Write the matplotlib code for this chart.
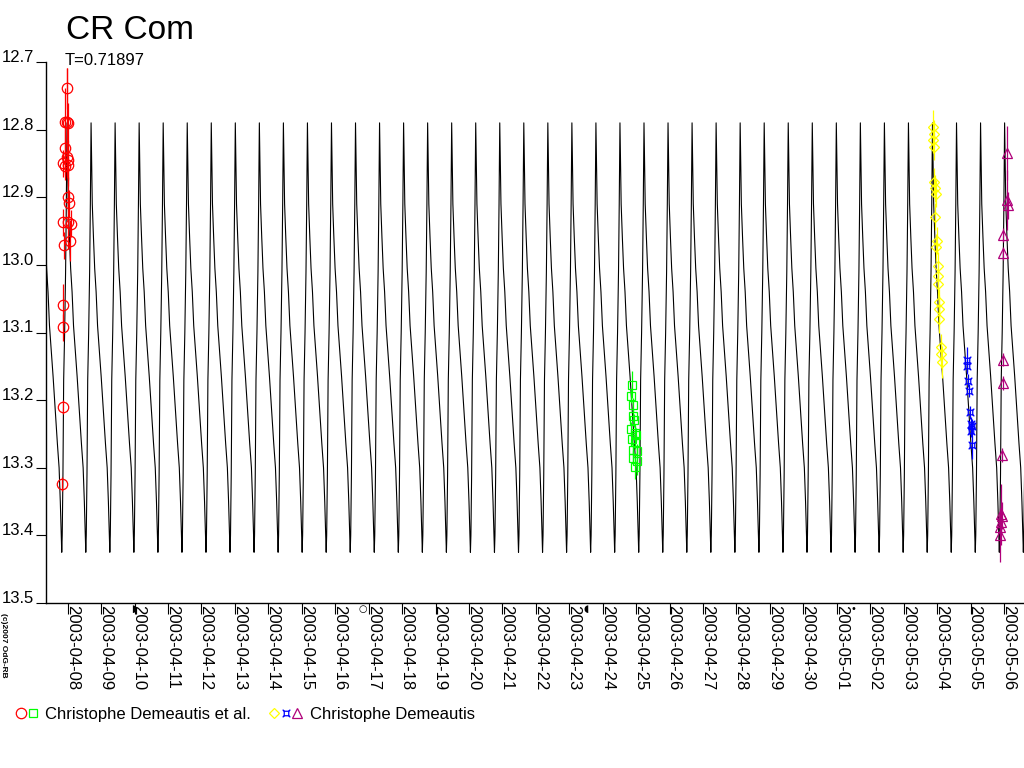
import numpy as np
import matplotlib
matplotlib.use("Agg")
import matplotlib.pyplot as plt
import matplotlib.dates as mdates
from matplotlib.lines import Line2D
from matplotlib.path import Path
from matplotlib.transforms import ScaledTranslation, blended_transform_factory
from datetime import datetime, timedelta

plt.rcParams['font.family'] = ['Liberation Sans', 'DejaVu Sans']

period = 0.71897
t_max = -0.02          # epoch of a maximum, days after 2003-04-08 00:00

# one cycle of the model light curve
tpl_phase = [0.0, 0.02, 0.05, 0.10, 0.15, 0.21, 0.27, 0.36, 0.42, 0.50, 0.60, 0.67,
             0.72, 0.76, 0.78, 0.80, 0.83, 0.86, 0.90, 0.94, 0.97]
tpl_mag = [12.79, 12.835, 12.91, 12.96, 13.005, 13.04, 13.09, 13.135, 13.165, 13.21, 13.265, 13.30,
           13.35, 13.40, 13.425, 13.40, 13.31, 13.17, 13.10, 13.01, 12.91]

# observations: days after 2003-04-08 00:00, magnitude, error
red_t = [-0.03, -0.072, -0.012, 0.018, -0.08, -0.03, 0.0, -0.13, 0.018, -0.08,
         0.018, 0.048, -0.13, 0.018, 0.09, 0.069, -0.11, -0.13, -0.13, -0.13, -0.16]
red_mag = [12.739, 12.789, 12.789, 12.790, 12.827, 12.841, 12.845, 12.850, 12.853, 12.854,
           12.900, 12.909, 12.937, 12.937, 12.939, 12.964, 12.971, 13.059, 13.092, 13.210, 13.324]
red_err = [0.03, 0.05, 0.08, 0.03, 0.04, 0.03, 0.03, 0.02, 0.03, 0.02,
           0.03, 0.02, 0.02, 0.04, 0.02, 0.03, 0.02, 0.03, 0.02, 0.01, 0.01]

green_t = [16.866, 16.846, 16.915, 16.895, 16.945, 16.840, 16.970, 17.000, 16.885, 16.970,
           16.915, 17.015, 16.895, 17.025, 16.970]
green_mag = [13.177, 13.194, 13.207, 13.223, 13.230, 13.243, 13.248, 13.251, 13.257, 13.262,
             13.274, 13.275, 13.285, 13.290, 13.299]
green_err = [0.02, 0.01, 0.01, 0.01, 0.01, 0.01, 0.01, 0.01, 0.01, 0.01,
             0.01, 0.01, 0.01, 0.02, 0.017]

yellow_t = [25.885, 25.905, 25.885, 25.915, 25.905, 25.935, 25.955, 25.935, 25.985, 25.965,
            26.025, 26.025, 26.035, 26.055, 26.065, 26.065, 26.105, 26.105, 26.135]
yellow_mag = [12.796, 12.806, 12.815, 12.825, 12.877, 12.887, 12.895, 12.929, 12.964, 12.974,
              13.001, 13.016, 13.028, 13.055, 13.065, 13.080, 13.122, 13.132, 13.144]
yellow_err = [0.025, 0.02, 0.02, 0.02, 0.02, 0.02, 0.02, 0.02, 0.02, 0.02,
              0.02, 0.02, 0.02, 0.02, 0.02, 0.02, 0.02, 0.02, 0.024]

blue_t = [26.90, 26.90, 26.93, 26.95, 26.98, 27.01, 27.05, 27.00, 27.03]
blue_mag = [13.141, 13.149, 13.171, 13.186, 13.218, 13.235, 13.238, 13.245, 13.267]
blue_err = [0.02, 0.01, 0.01, 0.01, 0.01, 0.01, 0.01, 0.01, 0.02]

purple_t = [28.08, 28.10, 28.11, 27.98, 27.98, 27.96, 27.96, 27.94, 27.90, 27.93, 27.90, 27.88, 27.88]
purple_mag = [12.835, 12.904, 12.912, 12.956, 12.983, 13.140, 13.175, 13.281, 13.369, 13.371,
              13.380, 13.387, 13.399]
purple_err = [0.04, 0.045, 0.02, 0.01, 0.01, 0.01, 0.01, 0.01, 0.045, 0.02, 0.02, 0.02, 0.04]

date_ticks = [datetime(2003, 4, 8) + timedelta(days=i) for i in range(29)]
y_ticks = [12.7, 12.8, 12.9, 13.0, 13.1, 13.2, 13.3, 13.4, 13.5]

moon_dates = [datetime(2003, 4, 9, 23, 40), datetime(2003, 4, 16, 19, 36),
              datetime(2003, 4, 23, 12, 18), datetime(2003, 5, 1, 12, 15)]
moon_syms = ['\u25D7', '\u25CB', '\u25D6', '\u2022']

base = mdates.date2num(datetime(2003, 4, 8))

fig = plt.figure(figsize=(10.24, 7.68), dpi=100)
ax = fig.add_axes([46 / 1024, 1 - 603 / 768, 1 - 46 / 1024, (603 - 62) / 768])

# model curve, template repeated every period
cyc_t = []
cyc_m = []
for n in range(-2, 42):
    cyc_t.append(t_max + (n + np.array(tpl_phase)) * period)
    cyc_m.append(np.array(tpl_mag))
curve_t = np.concatenate(cyc_t)
curve_m = np.concatenate(cyc_m)
ax.plot(base + curve_t, curve_m, color='black', lw=0.8, zorder=1)

# blue marker: square with corner tails
bv = [(-0.5, -0.5), (0.5, -0.5), (0.5, 0.5), (-0.5, 0.5), (-0.5, -0.5),
      (-0.5, -0.5), (-0.85, -0.85), (0.5, -0.5), (0.85, -0.85),
      (0.5, 0.5), (0.85, 0.85), (-0.5, 0.5), (-0.85, 0.85)]
bc = [Path.MOVETO, Path.LINETO, Path.LINETO, Path.LINETO, Path.CLOSEPOLY,
      Path.MOVETO, Path.LINETO, Path.MOVETO, Path.LINETO,
      Path.MOVETO, Path.LINETO, Path.MOVETO, Path.LINETO]
blue_marker = Path(bv, bc)

series = [
    (red_t, red_mag, red_err, 'o', '#ff0000', 7.5),
    (green_t, green_mag, green_err, 's', '#00ff00', 5.5),
    (yellow_t, yellow_mag, yellow_err, 'D', '#ffff00', 5.0),
    (blue_t, blue_mag, blue_err, blue_marker, '#0000ff', 5.5),
    (purple_t, purple_mag, purple_err, '^', '#b0007a', 6.5),
]
for t, m, e, mk, c, ms in series:
    ax.errorbar(base + np.array(t), m, yerr=e, fmt='none', ecolor=c, elinewidth=0.9, zorder=3)
    ax.plot(base + np.array(t), m, linestyle='none', marker=mk, ms=ms, mfc='none', mec=c, mew=0.9, zorder=4)

ax.set_ylim(13.5, 12.7)
ax.set_xlim(base - 0.649, base + 28.6)

for s in ['top', 'right']:
    ax.spines[s].set_visible(False)
for s in ['left', 'bottom']:
    ax.spines[s].set_linewidth(1.0)

ax.set_yticks(y_ticks)
ax.set_yticklabels(['%.1f' % v for v in y_ticks])
ax.tick_params(axis='y', length=7.2, width=0.8, pad=1.4, labelsize=12)
for lab in ax.get_yticklabels():
    lab.set_va('baseline')

ax.set_xticks([mdates.date2num(d) for d in date_ticks])
ax.set_xticklabels([d.strftime('%Y-%m-%d') for d in date_ticks])
ax.tick_params(axis='x', length=8, width=0.8, pad=-6.5, labelsize=12)
shift = ScaledTranslation(-3 / 100, 0, fig.dpi_scale_trans)
for lab in ax.get_xticklabels():
    lab.set_rotation(270)
    lab.set_ha('left')
    lab.set_va('top')
    lab.set_transform(lab.get_transform() + shift)

# moon phases just below the axis
moon_tr = blended_transform_factory(ax.transData, ax.transAxes) + ScaledTranslation(0, -6 / 100, fig.dpi_scale_trans)
for d, s in zip(moon_dates, moon_syms):
    ax.text(mdates.date2num(d), 0, s, transform=moon_tr, fontsize=7, ha='center', va='center',
            family='DejaVu Sans', clip_on=False)

fig.text(66 / 1024, 1 - 39 / 768, 'CR Com', fontsize=24, va='baseline', ha='left')
fig.text(65 / 1024, 1 - 65 / 768, 'T=0.71897', fontsize=12, va='baseline', ha='left')
fig.text(3.5 / 1024, 1 - 613 / 768, '(c)2007 OdG-RB', fontsize=6, fontweight='bold',
         rotation=270, ha='center', va='top')

# legend
def key(xp, mk, c, ms):
    fig.add_artist(Line2D([xp / 1024], [1 - 713 / 768], transform=fig.transFigure, marker=mk,
                          ms=ms, mfc='none', mec=c, mew=0.9, linestyle='none'))

key(21, 'o', '#ff0000', 7.5)
key(32.5, 's', '#00ff00', 5.5)
fig.text(45 / 1024, 1 - 719 / 768, 'Christophe Demeautis et al.', fontsize=12, va='baseline')
key(274, 'D', '#ffff00', 5.0)
key(286, blue_marker, '#0000ff', 5.5)
key(297, '^', '#b0007a', 6.5)
fig.text(310 / 1024, 1 - 719 / 768, 'Christophe Demeautis', fontsize=12, va='baseline')

fig.savefig('out.png', dpi=100, facecolor='white')
